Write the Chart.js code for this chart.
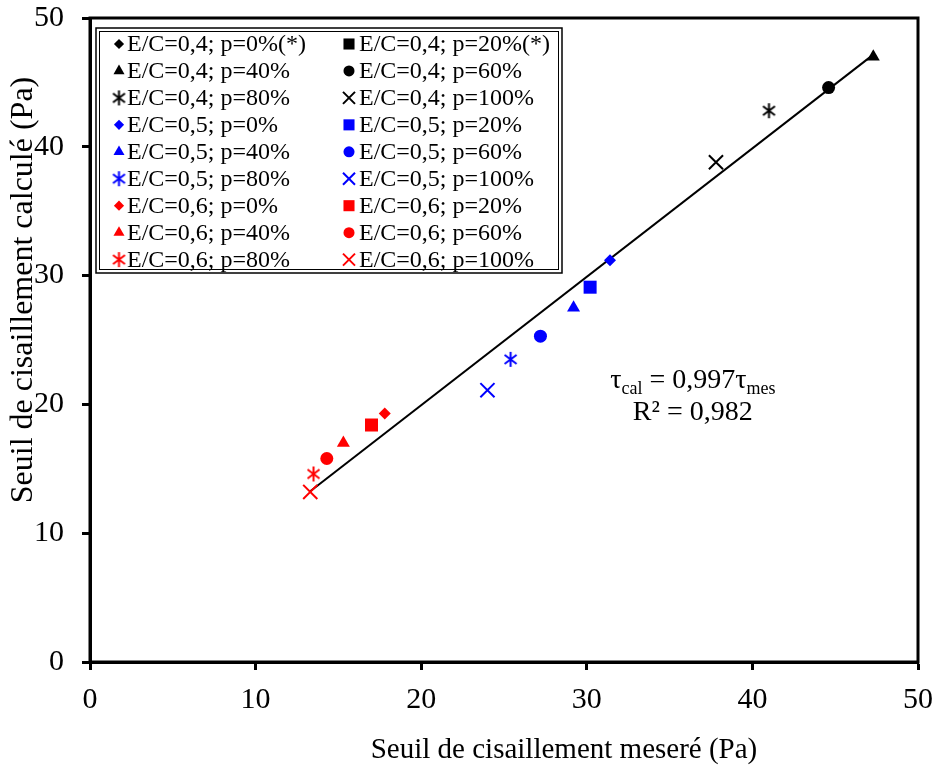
<!DOCTYPE html>
<html>
<head>
<meta charset="utf-8">
<script src="https://cdn.jsdelivr.net/npm/chart.js@4.4.0/dist/chart.umd.min.js"></script>
<style>
  html, body { margin: 0; padding: 0; background: #fff; }
  #wrap { width: 937px; height: 769px; }
</style>
</head>
<body>
<div id="wrap"><canvas id="seuilChart" width="937" height="769"></canvas></div>
<script>
var serif = '"Liberation Serif", "Times New Roman", serif';

// one series per mix, listed in legend order (two per row)
var seriesLabels = [
    'E/C=0,4; p=0%(*)', 'E/C=0,4; p=20%(*)',
    'E/C=0,4; p=40%',   'E/C=0,4; p=60%',
    'E/C=0,4; p=80%',   'E/C=0,4; p=100%',
    'E/C=0,5; p=0%',    'E/C=0,5; p=20%',
    'E/C=0,5; p=40%',   'E/C=0,5; p=60%',
    'E/C=0,5; p=80%',   'E/C=0,5; p=100%',
    'E/C=0,6; p=0%',    'E/C=0,6; p=20%',
    'E/C=0,6; p=40%',   'E/C=0,6; p=60%',
    'E/C=0,6; p=80%',   'E/C=0,6; p=100%'
];
var seriesColors = [
    '#000000', '#000000', '#000000', '#000000', '#000000', '#000000',
    '#0000ff', '#0000ff', '#0000ff', '#0000ff', '#0000ff', '#0000ff',
    '#ff0000', '#ff0000', '#ff0000', '#ff0000', '#ff0000', '#ff0000'
];
var seriesMarkers = [
    'diamond', 'square', 'triangle', 'circle', 'star', 'x',
    'diamond', 'square', 'triangle', 'circle', 'star', 'x',
    'diamond', 'square', 'triangle', 'circle', 'star', 'x'
];

// measured / calculated yield stress (Pa), null = no point
var tauMes = [null, null, 47.3, 44.6, 41.0, 37.8, 31.4, 30.2, 29.2, 27.2, 25.4, 24.0, 17.8, 17.0, 15.3, 14.3, 13.5, 13.3];
var tauCal = [null, null, 47.0, 44.6, 42.8, 38.8, 31.2, 29.1, 27.5, 25.3, 23.5, 21.1, 19.3, 18.4, 17.0, 15.8, 14.6, 13.2];

// linear fit through origin
var fitSlope = 0.997;
var fitR2 = 0.982;
var fitRange = [13.3, 47.3];

var axisTicks = [0, 10, 20, 30, 40, 50];

function starMarker(color) {
    var c = document.createElement('canvas');
    c.width = 17; c.height = 17;
    var g = c.getContext('2d');
    g.strokeStyle = color;
    g.lineWidth = 2;
    g.beginPath();
    g.moveTo(8.5, 1); g.lineTo(8.5, 16);
    g.moveTo(2.5, 4); g.lineTo(14.5, 13);
    g.moveTo(2.5, 13); g.lineTo(14.5, 4);
    g.stroke();
    return c;
}

var starCache = {};
function markerOpts(i) {
    var col = seriesColors[i];
    switch (seriesMarkers[i]) {
        case 'diamond': return { style: 'rectRot', radius: 6, border: 0 };
        case 'square': return { style: 'rect', radius: 9.2, border: 0 };
        case 'triangle': return { style: 'triangle', radius: 7.5, border: 0 };
        case 'circle': return { style: 'circle', radius: 6.5, border: 0 };
        case 'star':
            if (!starCache[col]) starCache[col] = starMarker(col);
            return { style: starCache[col], radius: 8, border: 0 };
        default: return { style: 'crossRot', radius: 10, border: 2 };
    }
}

var datasets = seriesLabels.map(function (lbl, i) {
    var m = markerOpts(i);
    return {
        type: 'scatter',
        label: lbl,
        data: tauMes[i] == null ? [] : [{ x: tauMes[i], y: tauCal[i] }],
        pointStyle: m.style,
        pointRadius: m.radius,
        pointHoverRadius: m.radius,
        pointBackgroundColor: seriesColors[i],
        pointBorderColor: seriesColors[i],
        pointBorderWidth: m.border
    };
});

datasets.push({
    type: 'line',
    label: 'fit',
    data: fitRange.map(function (v) { return { x: v, y: fitSlope * v }; }),
    borderColor: '#000',
    borderWidth: 2,
    pointRadius: 0,
    fill: false
});

// frame, legend box, axis titles and the fit equation
var decorPlugin = {
    id: 'decor',
    afterDraw: function (chart) {
        var ctx = chart.ctx;
        var a = chart.chartArea;
        var xs = chart.scales.x, ys = chart.scales.y;
        ctx.save();

        ctx.strokeStyle = '#000';
        ctx.lineWidth = 3;
        ctx.strokeRect(a.left, a.top, a.right - a.left, a.bottom - a.top);

        // legend
        var lx = 96, ly = 28, lw = 466, lh = 245;
        ctx.fillStyle = '#fff';
        ctx.fillRect(lx, ly, lw, lh);
        ctx.lineWidth = 1.5;
        ctx.strokeRect(lx, ly, lw, lh);
        ctx.lineWidth = 1;
        ctx.strokeRect(lx + 3.5, ly + 3.5, lw - 7, lh - 7);

        ctx.font = '24px ' + serif;
        ctx.textBaseline = 'middle';
        ctx.textAlign = 'left';
        for (var i = 0; i < seriesLabels.length; i++) {
            var col = i % 2, row = Math.floor(i / 2);
            var my = 44 + row * 26.95;
            var mx = col === 0 ? 119 : 349;
            var m = markerOpts(i);
            ctx.save();
            ctx.fillStyle = seriesColors[i];
            ctx.strokeStyle = seriesColors[i];
            ctx.lineWidth = 2;
            Chart.helpers.drawPoint(ctx, { pointStyle: m.style, radius: m.radius * 0.85, rotation: 0, borderWidth: m.border }, mx, my);
            ctx.restore();
            ctx.fillStyle = '#000';
            ctx.fillText(seriesLabels[i], col === 0 ? 127 : 359, my + 1);
        }

        // axis titles
        ctx.fillStyle = '#000';
        ctx.font = '29px ' + serif;
        ctx.textAlign = 'center';
        ctx.textBaseline = 'middle';
        ctx.fillText('Seuil de cisaillement meseré (Pa)', 564, 750);

        ctx.save();
        ctx.translate(24, 290);
        ctx.rotate(-Math.PI / 2);
        ctx.font = '32px ' + serif;
        ctx.fillText('Seuil de cisaillement calculé (Pa)', 0, 0);
        ctx.restore();

        // fit equation
        var big = '28px ' + serif, small = '18px ' + serif;
        var parts = [
            { t: 'τ', f: big, dy: 0 },
            { t: 'cal', f: small, dy: 6 },
            { t: ' = ' + fitSlope.toString().replace('.', ',') + 'τ', f: big, dy: 0 },
            { t: 'mes', f: small, dy: 6 }
        ];
        var total = 0;
        parts.forEach(function (p) { ctx.font = p.f; p.w = ctx.measureText(p.t).width; total += p.w; });
        var cx = xs.getPixelForValue(36.4);
        var base1 = ys.getPixelForValue(21.3);
        var px = cx - total / 2;
        ctx.textAlign = 'left';
        ctx.textBaseline = 'alphabetic';
        parts.forEach(function (p) {
            ctx.font = p.f;
            ctx.fillText(p.t, px, base1 + p.dy);
            px += p.w;
        });
        ctx.font = big;
        ctx.textAlign = 'center';
        ctx.fillText('R² = ' + fitR2.toString().replace('.', ','), cx, ys.getPixelForValue(18.8));

        ctx.restore();
    }
};

function axisOpts() {
    return {
        type: 'linear',
        min: 0,
        max: 50,
        afterBuildTicks: function (scale) {
            scale.ticks = axisTicks.map(function (v) { return { value: v }; });
        },
        ticks: {
            color: '#000',
            font: { family: serif, size: 30 },
            padding: 12
        },
        grid: {
            display: true,
            drawOnChartArea: false,
            drawTicks: true,
            tickLength: 8,
            tickWidth: 3,
            color: '#000'
        },
        border: { display: true, color: '#000', width: 3 },
        title: { display: false }
    };
}

var xAxis = axisOpts();
xAxis.position = 'bottom';
xAxis.afterFit = function (scale) {
    scale.height = 107;
    scale.paddingLeft = 0;
    scale.paddingRight = 0;
};
var yAxis = axisOpts();
yAxis.position = 'left';
yAxis.ticks.padding = 18;
yAxis.afterFit = function (scale) {
    scale.width = 90;
    scale.paddingTop = 0;
    scale.paddingBottom = 0;
};

new Chart(document.getElementById('seuilChart'), {
    type: 'scatter',
    data: { datasets: datasets },
    options: {
        responsive: false,
        animation: false,
        devicePixelRatio: 1,
        layout: { padding: { top: 18, right: 19, left: 0, bottom: 0 } },
        plugins: {
            legend: { display: false },
            tooltip: { enabled: false }
        },
        scales: { x: xAxis, y: yAxis }
    },
    plugins: [decorPlugin]
});
</script>
</body>
</html>
